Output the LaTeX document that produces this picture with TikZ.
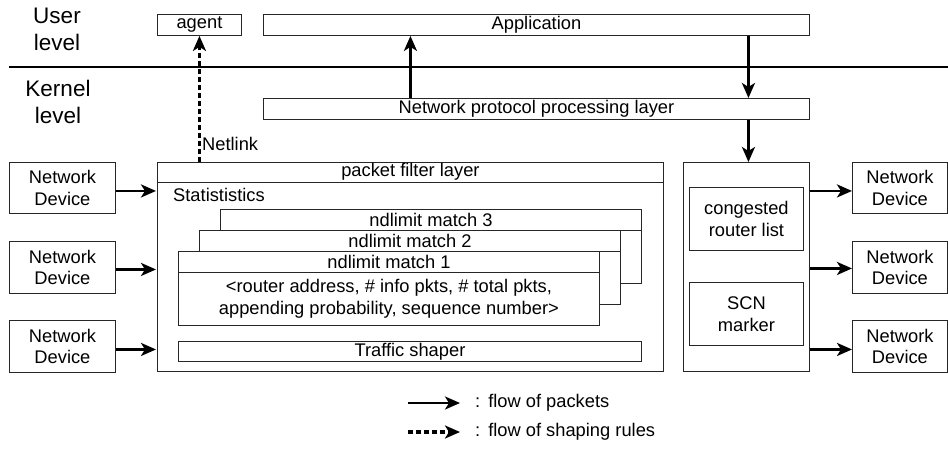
\documentclass[tikz,border=0pt]{standalone}
\usepackage{fontspec}
\setmainfont{Liberation Sans}
\usetikzlibrary{arrows.meta}

\begin{document}
\begin{tikzpicture}[x=1pt,y=-1pt,
  box/.style={draw=black!85, line width=0.9pt, fill=white, inner sep=0pt,
    anchor=north west, align=center, font=\fontsize{18.3}{21.5}\selectfont},
  rule/.style={draw=black!85, line width=0.9pt},
  lbl/.style={inner sep=0pt, align=center, font=\fontsize{18.3}{21.5}\selectfont},
  lvl/.style={inner sep=0pt, align=center, font=\fontsize{22.5}{27}\selectfont},
  arr/.style={line width=2.6pt, -{Stealth[length=15pt,width=13pt,inset=4pt]}},
  darr/.style={arr, line width=3.2pt, dash pattern=on 5pt off 3pt},
]
\useasboundingbox (0,0) rectangle (948,448);

% privilege levels
\node[lvl] (user) at (57,29.5) {User\\level};
\node[lvl] (kern) at (58,102) {Kernel\\level};
\coordinate (divL) at (9,67);
\coordinate (divR) at (948,67);
\draw[line width=1.4pt] (divL) -- (divR);

% user space and protocol stack
\node[box, minimum width=84pt,  minimum height=21pt] (agent) at (157,14) {agent};
\node[box, minimum width=546pt, minimum height=21pt] (app)   at (263,14) {Application};
\node[box, minimum width=546pt, minimum height=21pt] (npp)   at (263,98) {Network protocol processing layer};

% packet filter layer
\node[box, minimum width=506pt, minimum height=209pt] (pf) at (157,162) {};
\draw[rule] ([yshift=-20pt]pf.north west) -- ([yshift=-20pt]pf.north east);
\node[lbl] (pft) at ([yshift=-10pt]pf.north) {packet filter layer};
\node[lbl, anchor=west] (stat) at (173,195) {Statististics};

% stacked ndlimit matches
\node[box, minimum width=421pt, minimum height=74pt] (m3) at (220,209) {};
\draw[rule] ([yshift=-21pt]m3.north west) -- ([yshift=-21pt]m3.north east);
\node[lbl] (m3t) at ([yshift=-10.5pt]m3.north) {ndlimit match 3};

\node[box, minimum width=421pt, minimum height=74pt] (m2) at (199,230) {};
\draw[rule] ([yshift=-21pt]m2.north west) -- ([yshift=-21pt]m2.north east);
\node[lbl] (m2t) at ([yshift=-10.5pt]m2.north) {ndlimit match 2};

\node[box, minimum width=421pt, minimum height=74pt] (m1) at (178,251) {};
\draw[rule] ([yshift=-21pt]m1.north west) -- ([yshift=-21pt]m1.north east);
\node[lbl] (m1t) at ([yshift=-10.5pt]m1.north) {ndlimit match 1};
\node[lbl] (m1b) at ([yshift=-10.5pt]m1.center)
  {<router address, \# info pkts, \# total pkts,\\appending probability, sequence number>};

\node[box, minimum width=463pt, minimum height=20pt] (ts) at (178,341) {Traffic shaper};

% output side
\node[box, minimum width=126pt, minimum height=209pt] (rb) at (683,162) {};
\node[box, minimum width=114pt, minimum height=63pt] (crl) at (689,187) {congested\\router list};
\node[box, minimum width=114pt, minimum height=63pt] (scn) at (689,282) {SCN\\marker};

% network devices
\node[box, minimum width=106pt, minimum height=51pt] (dl1) at (9,162) {Network\\Device};
\node[box, minimum width=106pt, minimum height=52pt] (dl2) at (9,241) {Network\\Device};
\node[box, minimum width=106pt, minimum height=52pt] (dl3) at (9,320) {Network\\Device};
\node[box, minimum width=95pt, minimum height=51pt] (dr1) at (852,162) {Network\\Device};
\node[box, minimum width=95pt, minimum height=52pt] (dr2) at (852,241) {Network\\Device};
\node[box, minimum width=95pt, minimum height=52pt] (dr3) at (852,320) {Network\\Device};

% incoming packets
\coordinate (in1) at ([yshift=-3pt]dl1.east);
\coordinate (in2) at ([yshift=-2pt]dl2.east);
\coordinate (in3) at ([yshift=-3pt]dl3.east);
\draw[arr, shorten >=1pt] (in1) -- (in1 -| pf.west);
\draw[arr, shorten >=1pt] (in2) -- (in2 -| pf.west);
\draw[arr, shorten >=1pt] (in3) -- (in3 -| pf.west);

% outgoing packets
\coordinate (out1) at ([yshift=-3pt]dr1.west);
\coordinate (out2) at ([yshift=-1pt]dr2.west);
\coordinate (out3) at ([yshift=-3pt]dr3.west);
\draw[arr] (out1 -| rb.east) -- (out1);
\draw[arr] (out2 -| rb.east) -- (out2);
\draw[arr] (out3 -| rb.east) -- (out3);

% through the protocol stack
\draw[arr] (npp.north -| pf.north) -- (app.south -| pf.north);
\coordinate (downx) at ([xshift=2pt]rb.north);
\draw[arr] (app.south -| downx) -- (npp.north -| downx);
\draw[arr] (npp.south -| downx) -- (downx);

% shaping rules towards the agent
\draw[darr] (pf.north -| agent.south) -- (agent.south);
\node[lbl, anchor=west] (nl) at (202,144) {Netlink};

% legend
\coordinate (la1) at (408,403);
\coordinate (lb1) at (460,403);
\coordinate (la2) at (408,432);
\coordinate (lb2) at (460,432);
\draw[arr] (la1) -- (lb1);
\draw[darr] (la2) -- (lb2);
\node[lbl, anchor=west] (lt1) at (475,403) {:\hspace{8pt}flow of packets};
\node[lbl, anchor=west] (lt2) at (475,432) {:\hspace{8pt}flow of shaping rules};
\end{tikzpicture}
\end{document}
